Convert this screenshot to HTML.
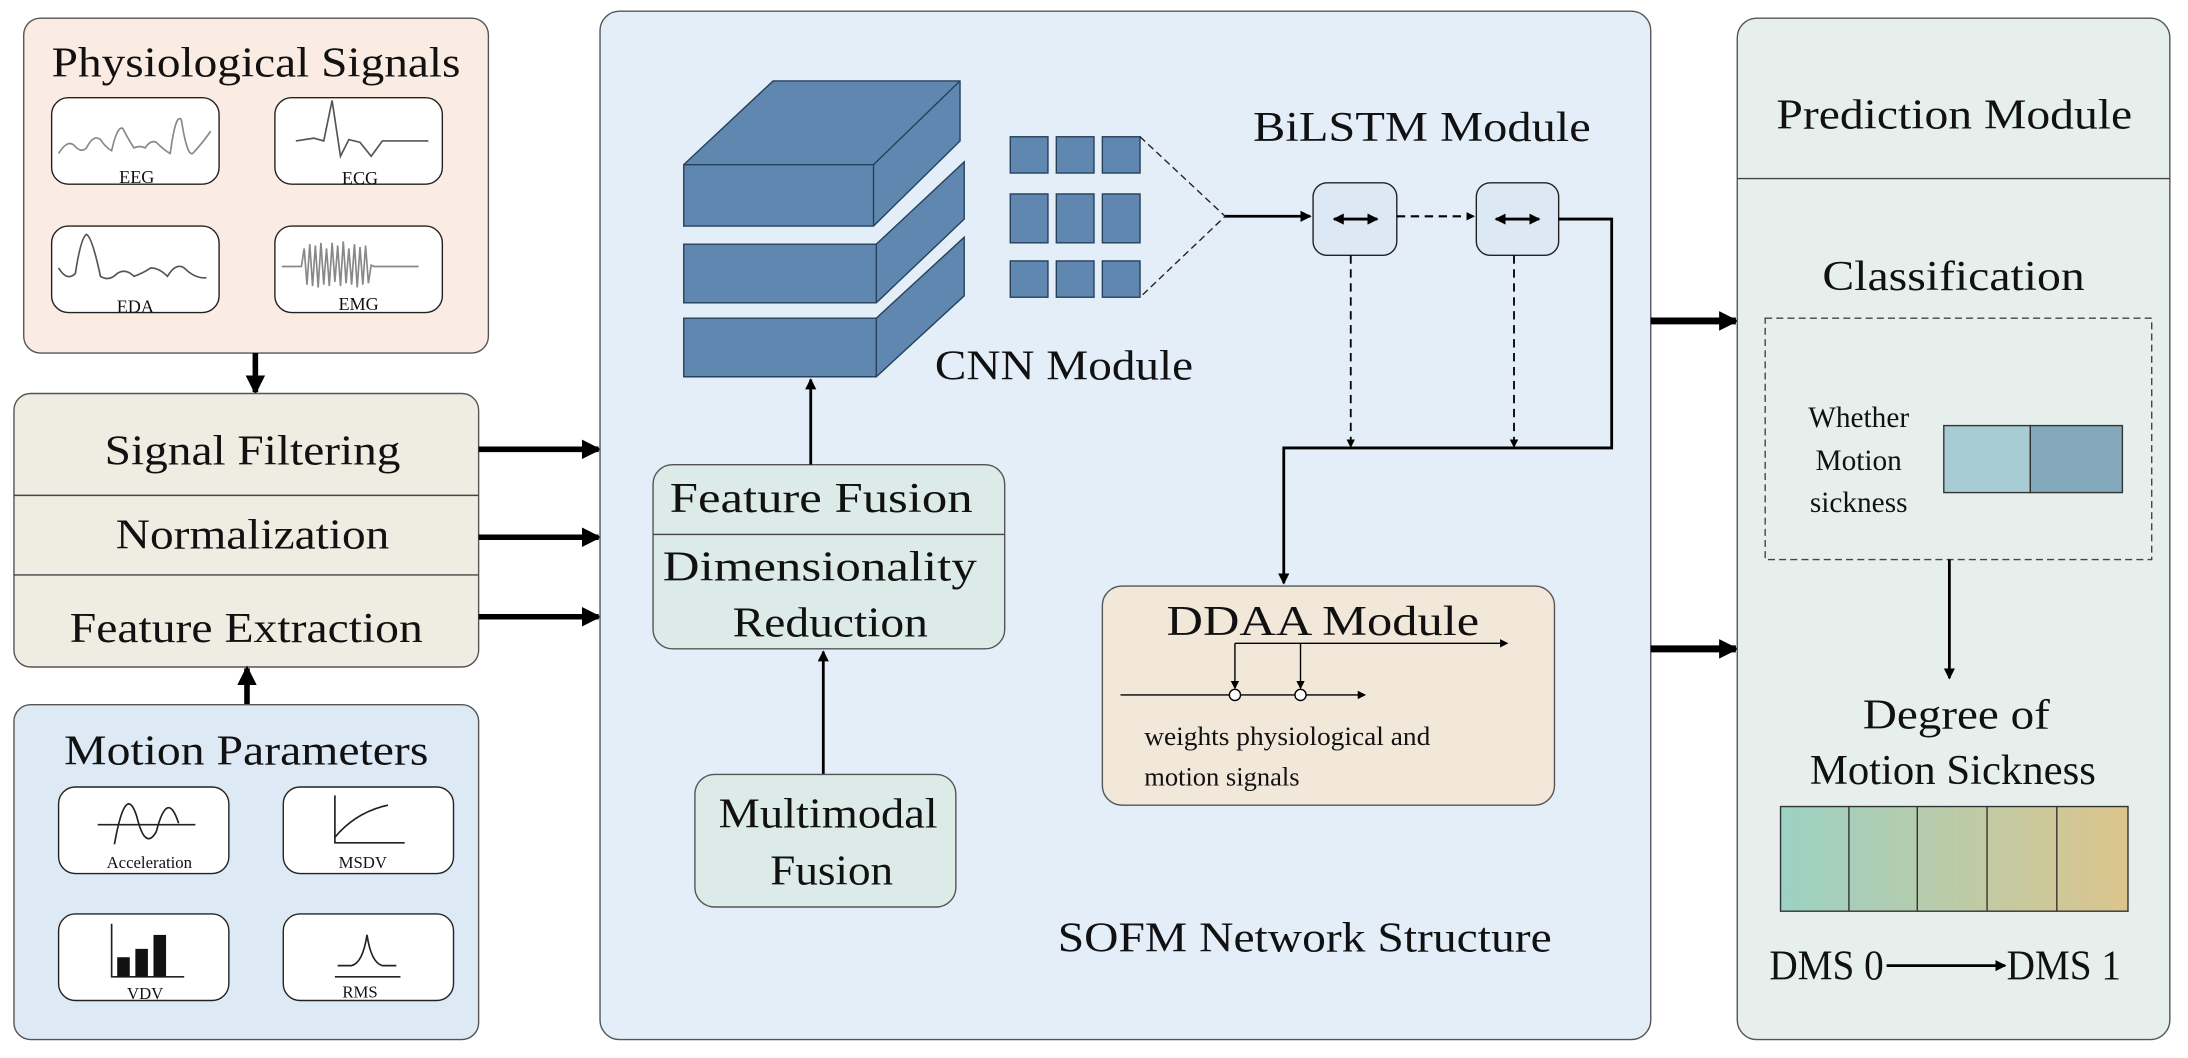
<!DOCTYPE html>
<html><head><meta charset="utf-8"><style>
html,body{margin:0;padding:0;background:#fff;}
svg{display:block;}
text{font-family:"Liberation Serif",serif;fill:#111;}
</style></head><body>
<svg width="2188" height="1058" viewBox="0 0 2188 1058" xmlns="http://www.w3.org/2000/svg">
<defs>
<marker id="ah" markerWidth="8" markerHeight="8" refX="7" refY="4" orient="auto" markerUnits="userSpaceOnUse"><path d="M0,0 L8,4 L0,8 z" fill="#000"/></marker>
<marker id="ahs" markerWidth="6" markerHeight="6" refX="5" refY="3" orient="auto" markerUnits="userSpaceOnUse"><path d="M0,0 L6,3 L0,6 z" fill="#000"/></marker>
<marker id="ahd" markerWidth="8" markerHeight="8" refX="7" refY="4" orient="auto-start-reverse" markerUnits="userSpaceOnUse"><path d="M0,0 L8,4 L0,8 z" fill="#000"/></marker>
<marker id="ahb" markerWidth="14" markerHeight="14" refX="12" refY="7" orient="auto" markerUnits="userSpaceOnUse"><path d="M0,0 L14,7 L0,14 z" fill="#000"/></marker>
<linearGradient id="dg" x1="0" x2="1" y1="0" y2="0"><stop offset="0" stop-color="#9bd1c4"/><stop offset="1" stop-color="#dcc58c"/></linearGradient>
</defs>
<g transform="scale(1.3954)">
<!-- Physiological -->
<rect x="17" y="13" width="333" height="240" rx="12" fill="#fbece3" stroke="#555" stroke-width="1"/>
<text x="37" y="55" font-size="30" textLength="293" lengthAdjust="spacingAndGlyphs">Physiological Signals</text>
<g fill="#fff" stroke="#222" stroke-width="1">
<rect x="37" y="70" width="120" height="62" rx="12"/><rect x="197" y="70" width="120" height="62" rx="12"/>
<rect x="37" y="162" width="120" height="62" rx="12"/><rect x="197" y="162" width="120" height="62" rx="12"/>
</g>
<g fill="none" stroke="#888" stroke-width="1.2">
<path d="M42,110 Q48,100 53,104 Q58,110 62,106 Q67,96 72,100 Q76,106 80,108 Q84,90 88,92 Q92,100 96,106 Q100,104 104,106 Q108,100 112,102 Q118,108 122,110 Q126,80 130,86 Q134,112 138,110 Q144,104 151,94"/>
<path d="M212,101 L225,99 L232,101 L238,72 L244,112 L250,100 L258,102 L266,112 L274,101 L307,101" stroke="#555"/>
<path d="M42,192 Q48,202 54,196 Q58,170 62,168 Q66,170 72,198 Q78,202 84,196 Q90,192 96,198 Q102,196 108,192 Q114,192 120,198 Q126,188 132,192 Q140,200 148,199" stroke="#555"/>
<path d="M202,191 L216,191 L218,178 L220,204 L222,175 L224,205 L226,176 L228,206 L230,174 L232,204 L234,178 L236,205 L238,174 L240,202 L242,176 L244,205 L246,173 L248,203 L250,178 L252,204 L254,175 L256,206 L258,177 L260,204 L262,176 L264,203 L266,190 L268,191 L300,191"/>
</g>
<g font-size="13" text-anchor="middle"><text x="98" y="131">EEG</text><text x="258" y="132">ECG</text><text x="97" y="224">EDA</text><text x="257" y="222">EMG</text></g>
<line x1="183" y1="253" x2="183" y2="281" stroke="#000" stroke-width="4" marker-end="url(#ahb)"/>
<!-- Process -->
<rect x="10" y="282" width="333" height="196" rx="12" fill="#efece2" stroke="#555"/>
<line x1="10" y1="355" x2="343" y2="355" stroke="#444"/><line x1="10" y1="412" x2="343" y2="412" stroke="#444"/>
<g font-size="30"><text x="75" y="333" textLength="212" lengthAdjust="spacingAndGlyphs">Signal Filtering</text><text x="83" y="393" textLength="196" lengthAdjust="spacingAndGlyphs">Normalization</text><text x="50" y="460" textLength="253" lengthAdjust="spacingAndGlyphs">Feature Extraction</text></g>
<g stroke="#000" stroke-width="4"><line x1="343" y1="322" x2="429" y2="322" marker-end="url(#ahb)"/><line x1="343" y1="385" x2="429" y2="385" marker-end="url(#ahb)"/><line x1="343" y1="442" x2="429" y2="442" marker-end="url(#ahb)"/></g>
<line x1="177" y1="505" x2="177" y2="479" stroke="#000" stroke-width="4" marker-end="url(#ahb)"/>
<!-- Motion -->
<rect x="10" y="505" width="333" height="240" rx="12" fill="#dde9f5" stroke="#555"/>
<text x="46" y="548" font-size="30" textLength="261" lengthAdjust="spacingAndGlyphs">Motion Parameters</text>
<g fill="#fff" stroke="#222" stroke-width="1">
<rect x="42" y="564" width="122" height="62" rx="12"/><rect x="203" y="564" width="122" height="62" rx="12"/>
<rect x="42" y="655" width="122" height="62" rx="12"/><rect x="203" y="655" width="122" height="62" rx="12"/>
</g>
<g fill="none" stroke="#222" stroke-width="1.2">
<line x1="70" y1="591" x2="140" y2="591"/><path d="M82,605 Q90,560 98,585 Q104,610 112,596 Q120,565 128,590"/>
<polyline points="240,570 240,604 290,604"/><path d="M240,600 Q255,582 278,577"/>
<polyline points="80,662 80,700 132,700"/><line x1="240" y1="700" x2="287" y2="700"/><path d="M242,692 L252,692 Q260,690 263,670 Q266,690 274,692 L284,692"/>
</g>
<g fill="#111"><rect x="84" y="686" width="9" height="14"/><rect x="97" y="680" width="9" height="20"/><rect x="110" y="670" width="9" height="30"/></g>
<g font-size="12" text-anchor="middle"><text x="107" y="622">Acceleration</text><text x="260" y="622">MSDV</text><text x="104" y="716">VDV</text><text x="258" y="715">RMS</text></g>
<!-- SOFM -->
<rect x="430" y="8" width="753" height="737" rx="14" fill="#e4eef8" stroke="#555"/>
<g fill="#5f87af" stroke="#26415c" stroke-width="1">
<polygon points="490,228 628,228 691,170 691,212 628,270 490,270"/><line x1="628" y1="228" x2="628" y2="270"/>
<polygon points="490,175 628,175 691,116 691,157 628,217 490,217"/><line x1="628" y1="175" x2="628" y2="217"/>
<polygon points="490,118 554,58 688,58 688,101 626,162 490,162"/><polyline points="490,118 626,118 688,58" fill="none"/><line x1="626" y1="118" x2="626" y2="162"/>
<rect x="724" y="98" width="27" height="26"/><rect x="757" y="98" width="27" height="26"/><rect x="790" y="98" width="27" height="26"/>
<rect x="724" y="139" width="27" height="35"/><rect x="757" y="139" width="27" height="35"/><rect x="790" y="139" width="27" height="35"/>
<rect x="724" y="187" width="27" height="26"/><rect x="757" y="187" width="27" height="26"/><rect x="790" y="187" width="27" height="26"/>
</g>
<polyline points="817,98 878,155 817,213" fill="none" stroke="#222" stroke-dasharray="5,3"/>
<text x="670" y="272" font-size="30" textLength="185" lengthAdjust="spacingAndGlyphs">CNN Module</text>
<text x="898" y="101" font-size="30" textLength="242" lengthAdjust="spacingAndGlyphs">BiLSTM Module</text>
<line x1="878" y1="155" x2="939" y2="155" stroke="#000" stroke-width="2" marker-end="url(#ah)"/>
<rect x="941" y="131" width="60" height="52" rx="10" fill="#dce9f5" stroke="#222"/>
<rect x="1058" y="131" width="59" height="52" rx="10" fill="#dce9f5" stroke="#222"/>
<g stroke="#000" stroke-width="2"><line x1="956" y1="157" x2="987" y2="157" marker-end="url(#ahd)" marker-start="url(#ahd)"/><line x1="1072" y1="157" x2="1103" y2="157" marker-end="url(#ahd)" marker-start="url(#ahd)"/></g>
<line x1="1001" y1="155" x2="1056" y2="155" stroke="#000" stroke-width="1.5" stroke-dasharray="6,4" marker-end="url(#ahs)"/>
<g stroke="#000" stroke-width="1.3" stroke-dasharray="6,4"><line x1="968" y1="183" x2="968" y2="320" marker-end="url(#ahs)"/><line x1="1085" y1="183" x2="1085" y2="320" marker-end="url(#ahs)"/></g>
<polyline points="1117,157 1155,157 1155,321 920,321 920,418" fill="none" stroke="#000" stroke-width="2" marker-end="url(#ah)"/>
<!-- DDAA -->
<rect x="790" y="420" width="324" height="157" rx="14" fill="#f2e8da" stroke="#555"/>
<text x="836" y="455" font-size="30" textLength="224" lengthAdjust="spacingAndGlyphs">DDAA Module</text>
<g stroke="#000" stroke-width="1"><line x1="885" y1="461" x2="1080" y2="461" marker-end="url(#ahs)"/><line x1="803" y1="498" x2="978" y2="498" marker-end="url(#ahs)"/><line x1="885" y1="461" x2="885" y2="493" marker-end="url(#ahs)"/><line x1="932" y1="461" x2="932" y2="493" marker-end="url(#ahs)"/></g>
<circle cx="885" cy="498" r="4" fill="#fff" stroke="#000"/><circle cx="932" cy="498" r="4" fill="#fff" stroke="#000"/>
<text x="820" y="534" font-size="19" textLength="205" lengthAdjust="spacingAndGlyphs">weights physiological and</text><text x="820" y="563" font-size="19">motion signals</text>
<!-- Feature fusion -->
<rect x="468" y="333" width="252" height="132" rx="14" fill="#dcebe8" stroke="#555"/>
<line x1="468" y1="383" x2="720" y2="383" stroke="#444"/>
<g font-size="30"><text x="480" y="367" textLength="217" lengthAdjust="spacingAndGlyphs">Feature Fusion</text><text x="475" y="416" textLength="225" lengthAdjust="spacingAndGlyphs">Dimensionality</text><text x="525" y="456" textLength="140" lengthAdjust="spacingAndGlyphs">Reduction</text></g>
<line x1="581" y1="333" x2="581" y2="272" stroke="#000" stroke-width="2" marker-end="url(#ah)"/>
<line x1="590" y1="555" x2="590" y2="467" stroke="#000" stroke-width="2" marker-end="url(#ah)"/>
<rect x="498" y="555" width="187" height="95" rx="14" fill="#dcebe8" stroke="#555"/>
<g font-size="30"><text x="515" y="593" textLength="157" lengthAdjust="spacingAndGlyphs">Multimodal</text><text x="552" y="634" textLength="88" lengthAdjust="spacingAndGlyphs">Fusion</text></g>
<text x="758" y="682" font-size="30" textLength="354" lengthAdjust="spacingAndGlyphs">SOFM Network Structure</text>
<g stroke="#000" stroke-width="5"><line x1="1183" y1="230" x2="1244" y2="230" marker-end="url(#ahb)"/><line x1="1183" y1="465" x2="1244" y2="465" marker-end="url(#ahb)"/></g>
<!-- Prediction -->
<rect x="1245" y="13" width="310" height="732" rx="14" fill="#e6efec" stroke="#555"/>
<line x1="1245" y1="128" x2="1555" y2="128" stroke="#444"/>
<g font-size="30"><text x="1273" y="92" textLength="255" lengthAdjust="spacingAndGlyphs">Prediction Module</text><text x="1306" y="208" textLength="188" lengthAdjust="spacingAndGlyphs">Classification</text><text x="1335" y="522" textLength="134" lengthAdjust="spacingAndGlyphs">Degree of</text><text x="1297" y="562" textLength="205" lengthAdjust="spacingAndGlyphs">Motion Sickness</text></g>
<rect x="1265" y="228" width="277" height="173" fill="none" stroke="#444" stroke-dasharray="5,3"/>
<g font-size="21" text-anchor="middle"><text x="1332" y="306">Whether</text><text x="1332" y="337">Motion</text><text x="1332" y="367">sickness</text></g>
<rect x="1393" y="305" width="62" height="48" fill="#a8ccd4" stroke="#333"/><rect x="1455" y="305" width="66" height="48" fill="#84a8bc" stroke="#333"/>
<line x1="1397" y1="401" x2="1397" y2="486" stroke="#000" stroke-width="2" marker-end="url(#ah)"/>
<rect x="1276" y="578" width="249" height="75" fill="url(#dg)" stroke="#333"/>
<g stroke="#333"><line x1="1325" y1="578" x2="1325" y2="653"/><line x1="1374" y1="578" x2="1374" y2="653"/><line x1="1424" y1="578" x2="1424" y2="653"/><line x1="1474" y1="578" x2="1474" y2="653"/></g>
<text x="1268" y="702" font-size="30" textLength="82" lengthAdjust="spacingAndGlyphs">DMS 0</text><text x="1438" y="702" font-size="30" textLength="82" lengthAdjust="spacingAndGlyphs">DMS 1</text>
<line x1="1352" y1="692" x2="1437" y2="692" stroke="#000" stroke-width="2" marker-end="url(#ah)"/>
</g>
</svg>
</body></html>
